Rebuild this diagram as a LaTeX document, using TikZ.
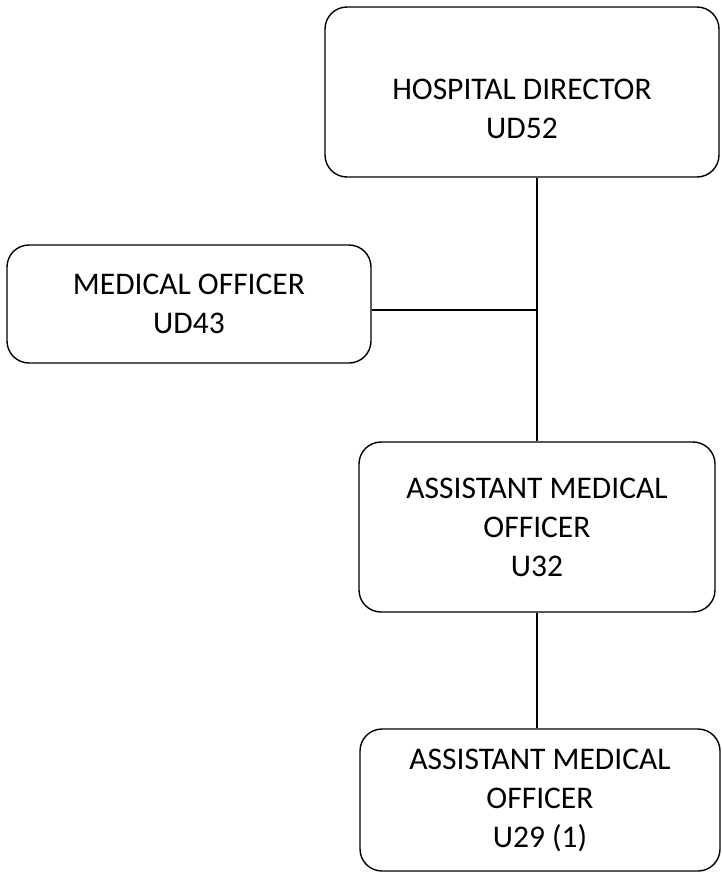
\documentclass[tikz,border=0pt]{standalone}
\usepackage{fontspec}
\setmainfont{Carlito}

\begin{document}
\begin{tikzpicture}[x=1pt, y=-1pt,
        post/.style={draw, line width=1.4pt, rounded corners=22pt, align=center,
            inner sep=0pt, font=\fontsize{31.5}{39}\selectfont},
        link/.style={line width=1.6pt}]
        \useasboundingbox (0,0) rectangle (722,873);
        % boxes
        \node[post, minimum width=394, minimum height=170] (hd) at (522,92)
            {\rule{0pt}{54pt}HOSPITAL DIRECTOR\\UD52};
        \node[post, minimum width=364, minimum height=118] (mo) at (189,304)
            {MEDICAL OFFICER\\UD43};
        \node[post, minimum width=356, minimum height=170] (amo) at (537,527)
            {ASSISTANT MEDICAL\\OFFICER\\U32};
        \node[post, minimum width=360, minimum height=142] (amoa) at (540,800)
            {ASSISTANT MEDICAL\\OFFICER\\U29 (1)};
        % lines
        \draw[link] (hd.south -| amo.north) -- (amo.north);
        \draw[link] ([yshift=-6]mo.east) -- ([yshift=-6]mo.east -| amo.north);
        \draw[link] (amo.south) -- (amo.south |- amoa.north);
    \end{tikzpicture}
\end{document}
